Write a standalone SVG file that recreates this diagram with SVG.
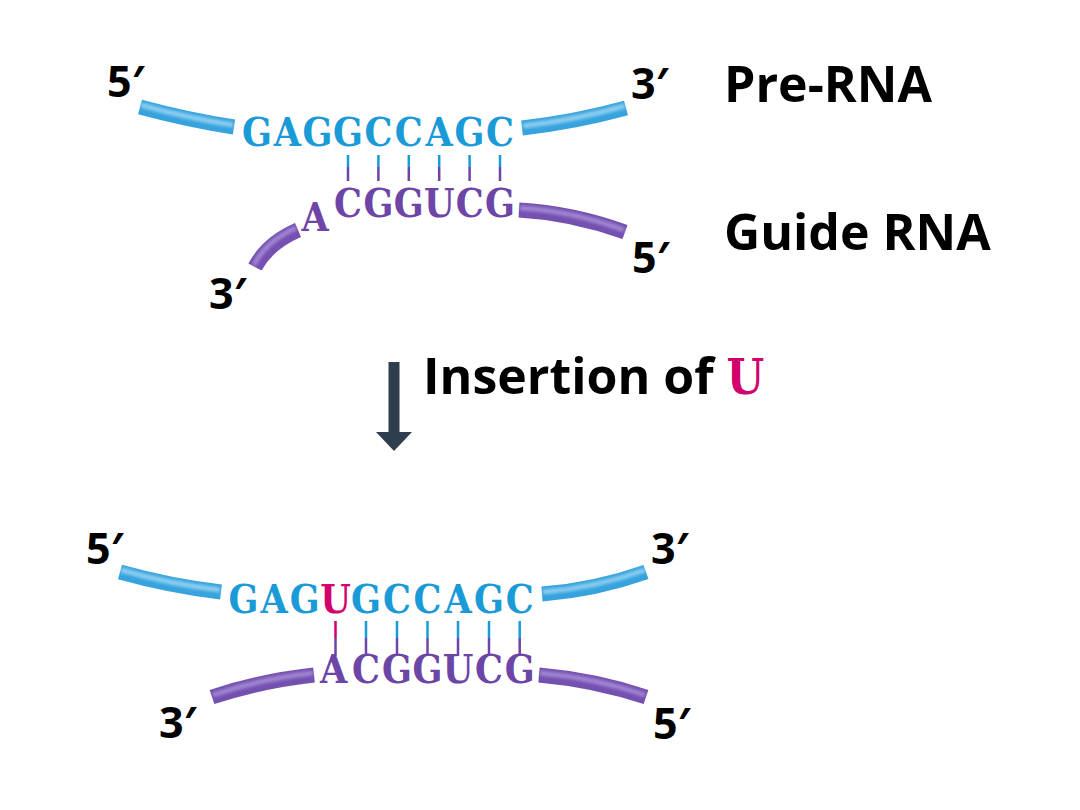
<svg xmlns="http://www.w3.org/2000/svg" width="1080" height="810" viewBox="0 0 1080 810">
<defs>
<filter id="soft" x="-10%" y="-50%" width="120%" height="200%"><feGaussianBlur stdDeviation="1.6"/></filter>
</defs>
<style>
.lbl{font-family:"Open Sans","Liberation Sans",sans-serif;font-weight:bold;fill:#000}
.end{font-family:"Open Sans","Liberation Sans",sans-serif;font-weight:bold;font-size:43px;fill:#000}
.seq{font-family:"DejaVu Serif","Liberation Serif",serif;font-weight:bold;font-size:39px;font-stretch:condensed;text-anchor:middle}
.pre{fill:#1b9ad8}
.gd{fill:#6d45a6}
.ins{fill:#d1006c}
.bb{fill:none;stroke:#36a3de;stroke-width:15}
.bbh{fill:none;stroke:#a8dcf6;stroke-width:5;opacity:0.75;filter:url(#soft)}
.bp{fill:none;stroke:#7450b0;stroke-width:15}
.bph{fill:none;stroke:#b39be0;stroke-width:5;opacity:0.7;filter:url(#soft)}
.pl{stroke-width:2.5}
</style>
<rect width="1080" height="810" fill="#fff"/>

<g id="top-complex">
  <g id="top-pre-backbone">
    <path class="bb" d="M140,107 Q188,120 234,127"/>
    <path class="bbh" d="M141,105 Q188,118 233,125"/>
    <path class="bb" d="M522,128 Q575,122 626,108"/>
    <path class="bbh" d="M523,126 Q575,120 625,106"/>
  </g>
  <g id="top-guide-backbone">
    <path class="bp" d="M519,210 Q572,213 625,232"/>
    <path class="bph" d="M520,208 Q572,211 624,230"/>
    <path class="bp" d="M298,230 Q268,243 255,267"/>
    <path class="bph" d="M296,228 Q266,241 254,265"/>
  </g>
  <text id="top-pre-seq" class="seq pre" x="256.9 287.3 317.6 348 378.4 408.8 439.2 469.6 500" y="146">GAGGCCAGC</text>
  <text id="top-guide-seq" class="seq gd" x="348 378.4 408.8 439.2 469.6 500" y="217">CGGUCG</text>
  <text class="seq gd" x="315" y="231">A</text>
  <g id="top-pairs" class="pl">
    <path stroke="#1b9ad8" d="M348,155V167M378.4,155V167M408.8,155V167M439.2,155V167M469.6,155V167M500,155V167"/>
    <path stroke="#6d45a6" d="M348,167V181M378.4,167V181M408.8,167V181M439.2,167V181M469.6,167V181M500,167V181"/>
  </g>
  <text class="end" x="107" y="97">5′</text>
  <text class="end" x="631" y="99">3′</text>
  <text class="end" x="632" y="273">5′</text>
  <text class="end" x="209" y="309">3′</text>
</g>

<g id="labels">
  <text class="lbl" x="724" y="102" font-size="50">Pre-RNA</text>
  <text class="lbl" x="724" y="250" font-size="50">Guide RNA</text>
</g>

<g id="connectors">
  <g id="step-arrow">
    <rect x="388.5" y="362" width="11" height="72" fill="#2e3e4d"/>
    <polygon points="376,432 412,432 394,451" fill="#2e3e4d"/>
  </g>
</g>
<g id="step-label">
  <text class="lbl" x="423" y="394" font-size="50">Insertion of <tspan font-family="DejaVu Serif, Liberation Serif, serif" font-size="48" font-stretch="condensed" fill="#d1006c">U</tspan></text>
</g>

<g id="bottom-complex">
  <g id="bottom-pre-backbone">
    <path class="bb" d="M120,572 Q170,586 221,592"/>
    <path class="bbh" d="M121,570 Q170,584 220,590"/>
    <path class="bb" d="M542,594 Q595,590 646,572"/>
    <path class="bbh" d="M543,592 Q595,588 645,570"/>
  </g>
  <g id="bottom-guide-backbone">
    <path class="bp" d="M212,697 Q260,681 314,675"/>
    <path class="bph" d="M213,695 Q260,679 313,673"/>
    <path class="bp" d="M539,675 Q595,680 646,697"/>
    <path class="bph" d="M540,673 Q595,678 645,695"/>
  </g>
  <text id="bottom-pre-seq" class="seq" y="613"><tspan class="pre" x="243.4 274 304.8">GAG</tspan><tspan class="ins" x="335.5">U</tspan><tspan class="pre" x="366 397 427.5 458 489 519.7">GCCAGC</tspan></text>
  <text id="bottom-guide-seq" class="seq gd" x="333.5 366 397 427.5 458 489 519.7" y="683">ACGGUCG</text>
  <g id="bottom-pairs" class="pl">
    <path stroke="#d1006c" d="M335.5,621V638"/>
    <path stroke="#1b9ad8" d="M366,621V638M397,621V638M427.5,621V638M458,621V638M489,621V638M519.7,621V638"/>
    <path stroke="#6d45a6" d="M335.5,638V656M366,638V656M397,638V656M427.5,638V656M458,638V656M489,638V656M519.7,638V656"/>
  </g>
  <text class="end" x="86" y="564">5′</text>
  <text class="end" x="651" y="564">3′</text>
  <text class="end" x="159" y="738">3′</text>
  <text class="end" x="653" y="739">5′</text>
</g>
</svg>
